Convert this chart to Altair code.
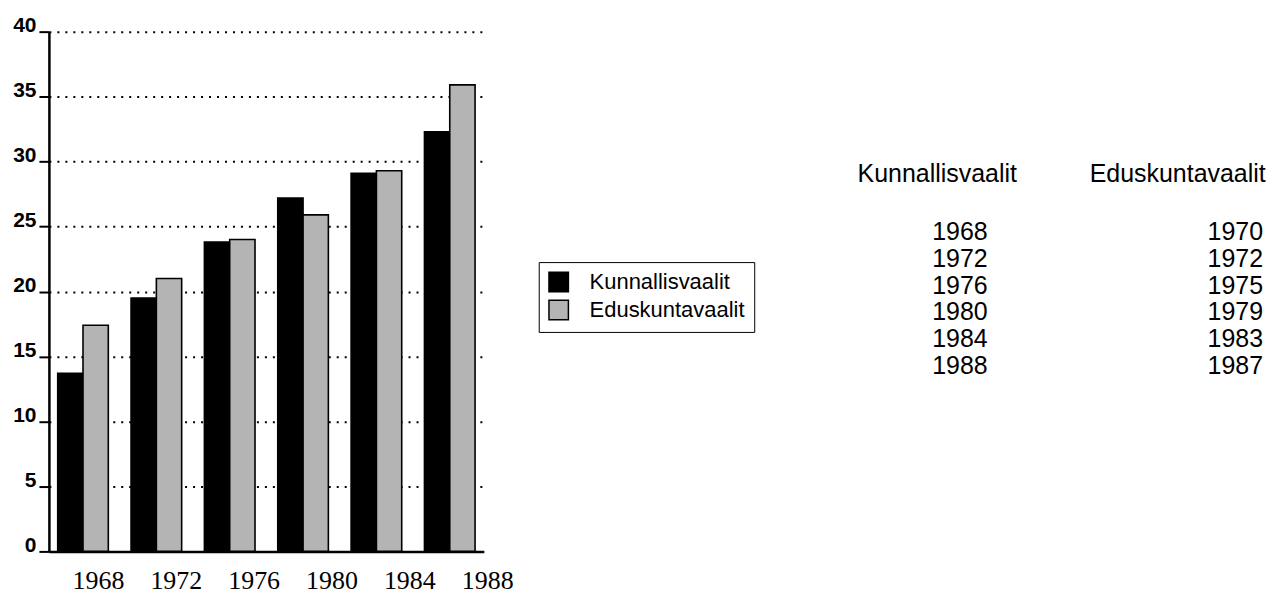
import altair as alt
import pandas as pd

# ---- data ----
years = ["1968", "1972", "1976", "1980", "1984", "1988"]
series = ["Kunnallisvaalit", "Eduskuntavaalit"]
kunnallis = [13.7, 19.5, 23.8, 27.2, 29.1, 32.3]
eduskunta = [17.4, 21.0, 24.0, 25.9, 29.3, 35.9]
y_ticks = [0, 5, 10, 15, 20, 25, 30, 35, 40]

kunn_years = ["1968", "1972", "1976", "1980", "1984", "1988"]
edus_years = ["1970", "1972", "1975", "1979", "1983", "1987"]

rows = []
for i, yr in enumerate(years):
    rows.append({"vuosi": yr, "sarja": series[0], "arvo": kunnallis[i]})
    rows.append({"vuosi": yr, "sarja": series[1], "arvo": eduskunta[i]})
df = pd.DataFrame(rows)

tab = []
for i in range(len(kunn_years)):
    tab.append({"sarake": series[0], "rivi": i, "vuosi": kunn_years[i]})
    tab.append({"sarake": series[1], "rivi": i, "vuosi": edus_years[i]})
tdf = pd.DataFrame(tab)

bars = alt.Chart(df).mark_bar(stroke="black", strokeWidth=1.6).encode(
    x=alt.X(
        "vuosi:N", sort=years, title=None,
        scale=alt.Scale(paddingInner=0.31, paddingOuter=0.12),
        axis=alt.Axis(
            labelAngle=0, labelFont="Liberation Serif", labelFontSize=26,
            labelColor="black", ticks=False, domainColor="black", domainWidth=2.5,
            labelPadding=37, labelBaseline="alphabetic", grid=False,
            labelOffset={"expr": "15.5 + 1.125*(toNumber(datum.value) - 1968)"},
        ),
    ),
    xOffset=alt.XOffset("sarja:N", sort=series),
    y=alt.Y(
        "arvo:Q", title=None, scale=alt.Scale(domain=[0, 40]),
        axis=alt.Axis(
            values=y_ticks, grid=True, gridDash=[2, 6], gridColor="black",
            gridWidth=2, gridOpacity=1, domainColor="black", domainWidth=2.5,
            tickColor="black", tickWidth=2, tickSize=10,
            labelFont="Liberation Sans", labelFontWeight="bold", labelFontSize=21,
            labelPadding=3, labelBaseline="alphabetic", labelColor="black",
        ),
    ),
    color=alt.Color(
        "sarja:N", sort=series,
        scale=alt.Scale(domain=series, range=["#000000", "#b4b4b4"]),
        legend=alt.Legend(
            title=None, orient="none", legendX=491, legendY=231,
            strokeColor="black", fillColor="white", padding=9,
            symbolType="square", symbolSize=380, symbolStrokeColor="black",
            symbolStrokeWidth=1.5, symbolOpacity=1,
            labelFont="Liberation Sans", labelFontSize=22, labelColor="black",
            rowPadding=2, labelOffset=20,
        ),
    ),
).properties(width=436, height=521)

table = alt.Chart(tdf).mark_text(
    align="right", baseline="middle", dx=53,
    font="Liberation Sans", fontSize=25, color="black",
).encode(
    x=alt.X(
        "sarake:N", sort=series, title=None,
        scale=alt.Scale(type="point", padding=0),
        axis=alt.Axis(
            orient="top", offset=-150, labelPadding=0, ticks=False, domain=False,
            labelAngle=0, labelFontSize=25, labelFont="Liberation Sans",
            labelColor="black", labelBaseline="alphabetic",
            labelOffset={"condition": {"test": "datum.value == 'Eduskuntavaalit'", "value": -33}, "value": 2},
        ),
    ),
    y=alt.Y("rivi:O", scale=alt.Scale(type="point", padding=0, range=[201, 335]), axis=None),
    text="vuosi:N",
).properties(width=276, height=521)

chart = alt.hconcat(bars, table, spacing=452).properties(
    bounds="flush",
    background="white",
    padding={"left": 4, "top": 6, "right": 0, "bottom": 0},
).configure_view(stroke="transparent", strokeWidth=0)

chart.save("out.html", embed_options={"renderer": "svg", "actions": False})
